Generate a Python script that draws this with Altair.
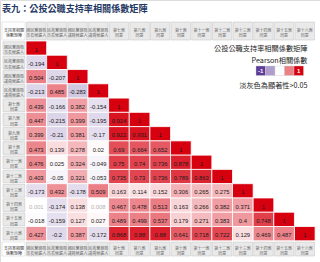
import altair as alt
import pandas as pd

# ---------------- data ----------------
title_text = "表九：公投公職支持率相關係數矩陣"
corner_text = "支持率相關\n係數矩陣"
var_line1 = ["國民黨籍縣", "民進黨籍縣", "國民黨籍縣", "民進黨籍縣",
             "第七案", "第八案", "第九案", "第十案", "第十一案",
             "第十二案", "第十三案", "第十四案", "第十五案", "第十六案"]
var_line2 = ["市長候選人", "市長候選人", "議員候選人", "議員候選人",
             "同意", "同意", "同意", "同意", "同意",
             "同意", "同意", "同意", "同意", "同意"]
corr_rows = [
    [1],
    [-0.194, 1],
    [0.504, -0.207, 1],
    [-0.213, 0.485, -0.283, 1],
    [0.439, -0.166, 0.382, -0.154, 1],
    [0.447, -0.215, 0.399, -0.195, 0.924, 1],
    [0.399, -0.21, 0.381, -0.17, 0.922, 0.931, 1],
    [0.473, 0.139, 0.278, 0.02, 0.69, 0.664, 0.652, 1],
    [0.476, 0.025, 0.324, -0.049, 0.75, 0.74, 0.736, 0.878, 1],
    [0.403, -0.05, 0.321, -0.053, 0.735, 0.73, 0.736, 0.789, 0.863, 1],
    [-0.173, 0.432, -0.178, 0.509, 0.163, 0.114, 0.152, 0.306, 0.265, 0.275, 1],
    [0.001, -0.174, 0.138, 0.008, 0.467, 0.478, 0.513, 0.163, 0.266, 0.382, 0.371, 1],
    [-0.018, -0.159, 0.127, 0.027, 0.489, 0.499, 0.537, 0.179, 0.271, 0.383, 0.4, 0.748, 1],
    [0.427, -0.2, 0.387, -0.172, 0.868, 0.88, 0.88, 0.641, 0.718, 0.722, 0.129, 0.469, 0.487, 1],
]
nonsig_cells = [(11, 0), (11, 3)]
legend_line1 = "公投公職支持率相關係數矩陣"
legend_line2 = "Pearson相關係數"
legend_note = "淡灰色為顯著性>0.05"
legend_values = [-1, -0.5, 0, 0.5, 1]
legend_labels = ["-1", "", "", "", "1"]

# ---------------- layout ----------------
W, H = 320, 262
X0, CW = 26.0, 20.65
Y0, RH = 41.0, 14.27
LX0, LX1 = 3.0, 25.0
TOP_Y, TOP_Y2 = 22.0, 40.0
BOT_Y, BOT_Y2 = 242.0, 256.0
n = len(var_line1)

cells = []
for i, row in enumerate(corr_rows):
    for j, v in enumerate(row):
        x = X0 + j * CW
        y = Y0 + i * RH
        cells.append(dict(x=x, x2=x + CW, y=y, y2=y + RH, xc=x + CW / 2, yc=y + RH / 2 + 1.5,
                          v=v, lab=f"{v:g}",
                          tc="#b0b0b0" if (i, j) in nonsig_cells else "#1a1a1a"))
cells = pd.DataFrame(cells)

hdr = []
for j in range(n):
    x = X0 + j * CW
    for (ya, yb) in [(TOP_Y, TOP_Y2), (BOT_Y, BOT_Y2)]:
        hdr.append(dict(x=x + 0.6, x2=x + CW - 0.6, y=ya, y2=yb, xc=x + CW / 2, yc=(ya + yb) / 2,
                        t=var_line1[j] + "\n" + var_line2[j]))
for i in range(n):
    y = Y0 + i * RH
    hdr.append(dict(x=LX0, x2=LX1, y=y + 0.8, y2=y + RH - 0.8, xc=(LX0 + LX1) / 2, yc=y + RH / 2,
                    t=var_line1[i] + "\n" + var_line2[i]))
hdr = pd.DataFrame(hdr)

corner = pd.DataFrame([
    dict(x=LX0 - 1, x2=LX1, y=TOP_Y, y2=TOP_Y2, xc=(LX0 + LX1) / 2, yc=(TOP_Y + TOP_Y2) / 2, t=corner_text),
    dict(x=LX0 - 1, x2=LX1, y=BOT_Y, y2=BOT_Y2, xc=(LX0 + LX1) / 2, yc=(BOT_Y + BOT_Y2) / 2, t=corner_text),
])

LBX, LBW, LBY, LBY2 = 256.0, 9.5, 66.0, 75.5
leg = pd.DataFrame([dict(x=LBX + k * LBW, x2=LBX + (k + 1) * LBW, y=LBY, y2=LBY2,
                         xc=LBX + (k + 0.5) * LBW, yc=(LBY + LBY2) / 2, v=v, lab=l)
                    for k, (v, l) in enumerate(zip(legend_values, legend_labels))])

texts = pd.DataFrame([
    dict(x=307.5, y=48.5, t=legend_line1),
    dict(x=307.5, y=60.5, t=legend_line2),
    dict(x=307.5, y=86.0, t=legend_note),
])
title_df = pd.DataFrame([dict(x=2.0, y=8.5, t=title_text)])

xs = alt.Scale(domain=[0, W], range=[0, W])
ys = alt.Scale(domain=[0, H], range=[0, H])
cs = alt.Scale(domain=[-1, 0, 1], range=["#5e3c99", "#ffffff", "#d7000f"], interpolate="rgb")
CJK = "Noto Sans CJK TC"


def X(f):
    return alt.X(f, type="quantitative", scale=xs, axis=None)


def Y(f):
    return alt.Y(f, type="quantitative", scale=ys, axis=None)


cell_rect = alt.Chart(cells).mark_rect(stroke="#ffffff", strokeWidth=0.8).encode(
    x=X("x"), x2="x2", y=Y("y"), y2="y2",
    fill=alt.Fill("v:Q", scale=cs, legend=None))
cell_text = alt.Chart(cells).mark_text(font="Liberation Sans", fontSize=5.8, align="center",
                                       baseline="middle").encode(
    x=X("xc"), y=Y("yc"), text="lab:N", color=alt.Color("tc:N", scale=None))

hdr_rect = alt.Chart(hdr).mark_rect(fill="#e9e9e9", stroke="#c9c9c9", strokeWidth=0.6).encode(
    x=X("x"), x2="x2", y=Y("y"), y2="y2")
hdr_text = alt.Chart(hdr).mark_text(font=CJK, fontSize=4.0, lineHeight=5.2, color="#6a6a6a",
                                    align="center", baseline="middle", lineBreak="\n").encode(
    x=X("xc"), y=Y("yc"), text="t:N")

corner_rect = alt.Chart(corner).mark_rect(fill="#ffffff", stroke="#cfcfcf", strokeWidth=0.5).encode(
    x=X("x"), x2="x2", y=Y("y"), y2="y2")
corner_text_l = alt.Chart(corner).mark_text(font=CJK, fontSize=4.0, lineHeight=5.2, color="#333333",
                                            align="center", baseline="middle", lineBreak="\n").encode(
    x=X("xc"), y=Y("yc"), text="t:N")

leg_rect = alt.Chart(leg).mark_rect(stroke="#cccccc", strokeWidth=0.4).encode(
    x=X("x"), x2="x2", y=Y("y"), y2="y2",
    fill=alt.Fill("v:Q", scale=cs, legend=None))
leg_text = alt.Chart(leg).mark_text(font="Liberation Sans", fontSize=6, fontWeight="bold",
                                    color="#ffffff", align="center", baseline="middle").encode(
    x=X("xc"), y=Y("yc"), text="lab:N")

legend_texts = alt.Chart(texts).mark_text(font=CJK, fontSize=7.2, color="#222222",
                                          align="right", baseline="middle").encode(
    x=X("x"), y=Y("y"), text="t:N")

title = alt.Chart(title_df).mark_text(font=CJK, fontSize=9.1, fontWeight="bold", color="#1f3864",
                                      align="left", baseline="middle").encode(
    x=X("x"), y=Y("y"), text="t:N")

chart = alt.layer(
    hdr_rect, hdr_text, corner_rect, corner_text_l,
    cell_rect, cell_text, leg_rect, leg_text, legend_texts, title
).properties(
    width=W, height=H, autosize=alt.AutoSizeParams(type="none"), padding=0
).configure_view(stroke=None).configure(background="#ffffff")

chart.save("out.html", embed_options={"renderer": "svg", "actions": False})
